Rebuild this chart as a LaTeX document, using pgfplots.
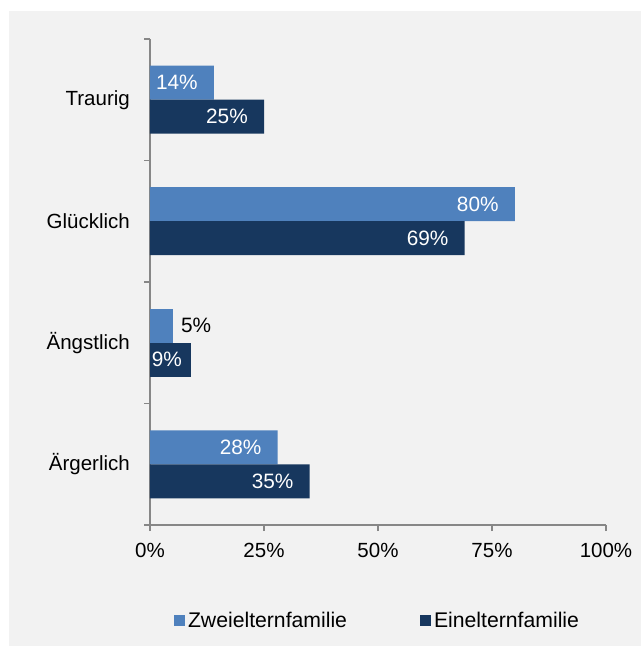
\documentclass[border=0pt]{standalone}
\usepackage{pgfplots}
\pgfplotsset{compat=1.18}
\usepackage{fontspec}
\setmainfont{Liberation Sans}
\definecolor{bgc}{HTML}{F2F2F2}
\definecolor{axisgray}{HTML}{878787}
\definecolor{lightbar}{HTML}{4F81BD}
\definecolor{darkbar}{HTML}{17375E}
\begin{document}
\fontsize{20.5}{24}\selectfont
\begin{tikzpicture}
\useasboundingbox (0,0) rectangle (641pt,646pt);
\fill[white] (0,0) rectangle (641pt,646pt);
\fill[bgc] (9pt,0) rectangle (641pt,635pt);
\begin{axis}[
  at={(150pt,121pt)}, anchor=south west,
  scale only axis, width=456pt, height=486pt,
  xmin=0, xmax=100, ymin=-0.5, ymax=3.5,
  axis lines=left,
  axis line style={-, draw=axisgray, line width=1.5pt},
  xtick={0,25,50,75,100},
  xticklabels={0\%,25\%,50\%,75\%,100\%},
  xtick style={draw=axisgray, line width=1.5pt},
  tick align=outside,
  major tick length=6pt,
  ytick={-0.5,0.5,1.5,2.5,3.5},
  yticklabels={},
  ytick style={draw=axisgray, line width=1.5pt},
  extra y ticks={0,1,2,3},
  extra y tick labels={Ärgerlich,Ängstlich,Glücklich,Traurig},
  extra y tick style={major tick length=0pt, tick style={draw=none}},
  yticklabel style={font=\fontsize{20.5}{24}\selectfont, inner sep=0pt, xshift=-20pt},
  xticklabel style={font=\fontsize{20.5}{24}\selectfont, inner sep=0pt, yshift=-12pt},
  /pgf/number format/assume math mode=true,
  xbar, bar width=34pt,
  point meta=x,
  clip=false,
  legend columns=2,
  legend style={at={(0.5,-0.1975)}, anchor=center, draw=none, fill=none,
    font=\fontsize{21.2}{24}\selectfont,
    nodes={inner xsep=3pt, inner ysep=0pt},
    /tikz/every even column/.append style={column sep=70pt}},
  legend image code/.code={\fill[#1,draw=none] (0pt,-5.5pt) rectangle (11pt,5.5pt);},
]
% Zweielternfamilie
\addplot[fill=lightbar, draw=none, bar shift=17pt,
  nodes near coords={\pgfmathprintnumber{\pgfplotspointmeta}\%},
  every node near coord/.append style={anchor=east, inner sep=0pt, xshift=-16pt, text=white, font=\fontsize{20.8}{24}\selectfont}]
  coordinates {(14,3) (80,2) (28,0)};
\addlegendentry{Zweielternfamilie}
\addplot[forget plot, fill=lightbar, draw=none, bar shift=17pt,
  nodes near coords={\pgfmathprintnumber{\pgfplotspointmeta}\%},
  every node near coord/.append style={anchor=west, inner sep=0pt, xshift=8pt, text=black, font=\fontsize{20.8}{24}\selectfont}]
  coordinates {(5,1)};
% Einelternfamilie
\addplot[fill=darkbar, draw=none, bar shift=-17pt,
  nodes near coords={\pgfmathprintnumber{\pgfplotspointmeta}\%},
  every node near coord/.append style={anchor=east, inner sep=0pt, xshift=-16pt, text=white, font=\fontsize{20.8}{24}\selectfont}]
  coordinates {(25,3) (69,2) (35,0)};
\addlegendentry{Einelternfamilie}
\addplot[forget plot, fill=darkbar, draw=none, bar shift=-17pt,
  nodes near coords={\pgfmathprintnumber{\pgfplotspointmeta}\%},
  every node near coord/.append style={anchor=east, inner sep=0pt, xshift=-9pt, text=white, font=\fontsize{20.8}{24}\selectfont}]
  coordinates {(9,1)};
\end{axis}
\end{tikzpicture}
\end{document}
